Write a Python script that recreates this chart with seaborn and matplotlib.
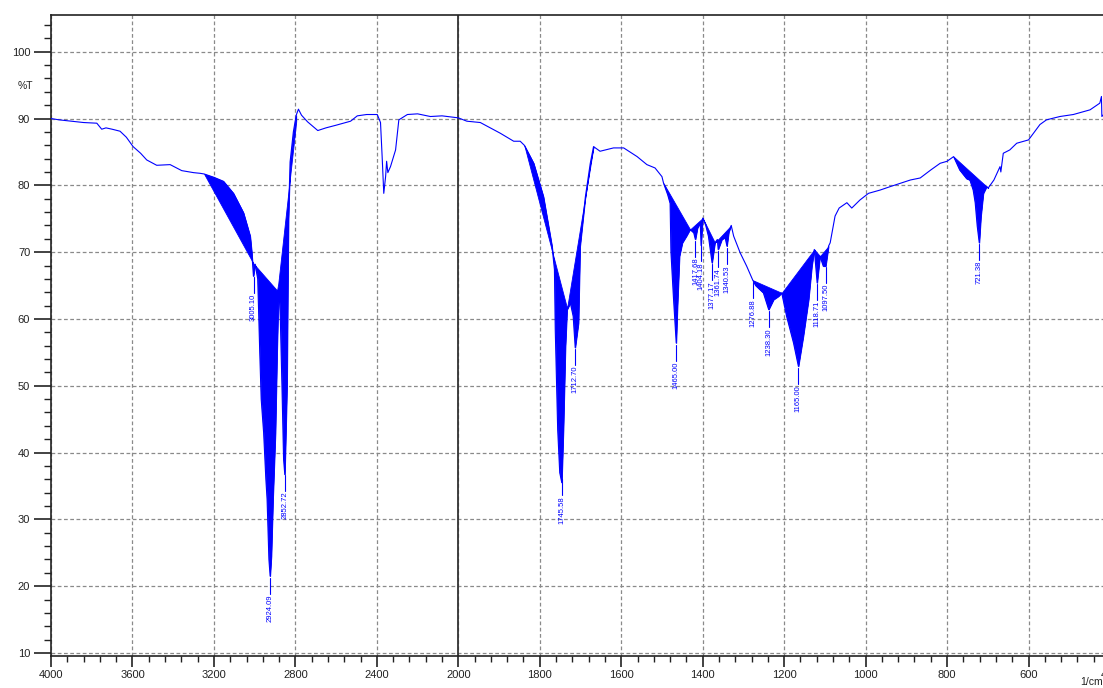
import numpy as np
import pandas as pd
import matplotlib
matplotlib.use("Agg")
import matplotlib.pyplot as plt
import seaborn as sns
from matplotlib.ticker import FixedLocator, NullFormatter

# ---------------- data ----------------
wavenumber = [4000, 3960, 3900, 3840, 3775, 3751, 3730, 3700, 3661, 3630, 3597, 3560, 3530,
              3481, 3415, 3358, 3300, 3268, 3248, 3200, 3153, 3104, 3055, 3022, 3014, 3006,
              2998, 2985, 2975, 2968, 2956, 2945, 2939, 2930, 2924, 2918, 2910, 2898, 2890,
              2884, 2880, 2874, 2866, 2858, 2852, 2846, 2841, 2838, 2834, 2826, 2810, 2796,
              2785, 2770, 2740, 2690, 2650, 2600, 2529, 2496, 2450, 2398, 2382, 2374, 2366,
              2357, 2352, 2346, 2333, 2308, 2292, 2250, 2200, 2137, 2080, 2000,
              1979, 1946, 1897, 1864, 1848, 1838, 1815, 1791, 1770, 1764, 1762, 1756, 1751,
              1746, 1742, 1737, 1733, 1725, 1718, 1713, 1705, 1701, 1688, 1676, 1668, 1652,
              1619, 1594, 1561, 1537, 1517, 1500, 1496, 1486, 1480, 1478, 1472, 1468, 1465,
              1462, 1457, 1450, 1440, 1431, 1422, 1418, 1413, 1406, 1404, 1400, 1393, 1386,
              1377, 1370, 1364, 1362, 1353, 1345, 1340.5, 1336, 1330, 1324, 1308, 1292, 1277,
              1270, 1251, 1238, 1226, 1214, 1206, 1194, 1177, 1165, 1153, 1140, 1132, 1126,
              1119, 1112, 1104, 1098, 1091, 1087, 1075, 1065, 1046, 1034, 1014, 993, 964,
              940, 915, 890, 866, 840, 817, 800, 784, 769, 752, 744, 736, 731, 726, 721, 717,
              711, 703, 699, 685, 670, 668, 662, 646, 629, 600, 572, 556, 523, 490, 449, 425,
              421, 420, 410, 400]
transmittance = [90.0, 89.8, 89.6, 89.4, 89.3, 88.4, 88.6, 88.4, 88.1, 87.2, 85.8, 84.8, 83.8,
                 83.0, 83.1, 82.2, 81.9, 81.8, 81.7, 81.2, 80.6, 78.8, 75.9, 72.4, 69.9, 66.4,
                 68.2, 66.0, 55.0, 48.0, 43.0, 36.0, 33.0, 24.0, 21.5, 24.5, 33.0, 43.0, 55.0,
                 62.5, 64.0, 60.0, 50.0, 39.0, 36.7, 44.0, 50.4, 62.0, 75.0, 83.5, 88.0, 90.5,
                 91.4, 90.5, 89.5, 88.2, 88.6, 89.0, 89.6, 90.4, 90.6, 90.6, 89.4, 84.3, 78.8,
                 81.3, 83.6, 81.9, 82.8, 85.3, 89.8, 90.6, 90.7, 90.3, 90.4, 90.1,
                 89.6, 89.4, 87.8, 86.6, 86.6, 86.0, 83.3, 78.3, 70.9, 67.4, 58.4, 43.4, 37.0,
                 35.5, 43.4, 55.9, 61.4, 62.4, 60.4, 55.7, 59.4, 70.9, 78.3, 83.3, 85.8, 85.1,
                 85.6, 85.6, 84.3, 83.1, 82.6, 81.3, 80.3, 78.6, 77.3, 70.0, 63.4, 59.4, 56.4,
                 61.9, 69.4, 71.4, 72.4, 73.4, 72.9, 71.9, 73.6, 74.4, 71.0, 75.1, 74.1, 72.4,
                 68.4, 71.4, 71.9, 70.4, 71.9, 72.2, 70.9, 73.0, 74.0, 72.4, 69.9, 67.9, 65.8,
                 65.0, 63.9, 61.4, 62.9, 63.4, 63.9, 60.4, 56.4, 52.9, 57.4, 62.9, 67.9, 70.4,
                 65.4, 69.4, 67.9, 67.9, 70.9, 71.4, 75.4, 76.6, 77.4, 76.6, 77.8, 78.8, 79.3,
                 79.8, 80.3, 80.8, 81.1, 82.3, 83.3, 83.6, 84.3, 82.3, 81.0, 80.8, 79.3, 77.4,
                 73.9, 71.4, 75.3, 78.8, 79.8, 79.6, 80.8, 82.8, 82.0, 84.8, 85.3, 86.3, 86.8,
                 89.1, 89.8, 90.3, 90.6, 91.3, 92.3, 93.3, 90.3, 91.0, 91.2]

# baseline nodes of the shaded peak areas
fill_base_wn = [[3248, 3006, 2888, 2790],
                [1838, 1733, 1668],
                [1496, 1431, 1400, 1370, 1330],
                [1277, 1206, 1126, 1112, 1091],
                [784, 699]]
fill_base_t = [[81.7, 68.3, 64.2, 91.2],
               [86.0, 61.6, 85.8],
               [80.3, 73.4, 75.1, 71.4, 74.0],
               [65.8, 63.9, 70.4, 69.4, 70.9],
               [84.3, 79.6]]

peak_wn = [3005.10, 2924.09, 2852.72, 1745.58, 1712.70, 1465.00, 1417.68, 1404.18, 1377.17,
           1361.74, 1340.53, 1276.88, 1238.30, 1165.00, 1118.71, 1097.50, 721.38]
peak_labels = ["3005.10", "2924.09", "2852.72", "1745.58", "1712.70", "1465.00", "1417.68",
               "1404.18", "1377.17", "1361.74", "1340.53", "1276.88", "1238.30", "1165.00",
               "1118.71", "1097.50", "721.38"]

x_major = [4000, 3600, 3200, 2800, 2400, 2000, 1800, 1600, 1400, 1200, 1000, 800, 600, 400]
y_major = [10, 20, 30, 40, 50, 60, 70, 80, 90, 100]

# ---------------- figure ----------------
sns.set_style("white")
plt.rcParams['font.family'] = ['Liberation Sans', 'DejaVu Sans']

W, H = 1103, 688
fig = plt.figure(figsize=(W / 100, H / 100), dpi=100)
ax = fig.add_axes([51 / W, 1 - 656 / H, (1110 - 51) / W, (656 - 14.7) / H])

df = pd.DataFrame({"wn": wavenumber, "T": transmittance})
sns.lineplot(data=df, x="wn", y="T", sort=False, estimator=None, color="#0000ff",
             linewidth=0.8, ax=ax, zorder=4)

wn_arr = np.array(wavenumber, float)
t_arr = np.array(transmittance, float)
order = np.argsort(wn_arr)
for bw, bt in zip(fill_base_wn, fill_base_t):
    bw = np.array(bw, float)
    bt = np.array(bt, float)
    o = np.argsort(bw)
    m = (wn_arr <= bw.max()) & (wn_arr >= bw.min())
    base = np.interp(wn_arr[m], bw[o], bt[o])
    ax.fill_between(wn_arr[m], t_arr[m], base, color="#0000ff", linewidth=0.6,
                    edgecolor="#0000ff", zorder=3)


def fwd(x):
    x = np.asarray(x, float)
    return np.where(x <= 2000, x, 2000 + (x - 2000) / 2)


def inv(u):
    u = np.asarray(u, float)
    return np.where(u <= 2000, u, 2000 + (u - 2000) * 2)


ax.set_xscale('function', functions=(fwd, inv))
ax.set_xlim(4000, 400)
ax.set_ylim(9.55, 105.54)

x_minor = [v for v in list(range(4000, 2000, -80)) + list(range(2000, 399, -40))
           if v not in x_major]
ax.xaxis.set_major_locator(FixedLocator(x_major))
ax.xaxis.set_minor_locator(FixedLocator(x_minor))
ax.xaxis.set_major_formatter(matplotlib.ticker.FixedFormatter([str(v) for v in x_major]))
ax.xaxis.set_minor_formatter(NullFormatter())
ax.yaxis.set_major_locator(FixedLocator(y_major))
ax.yaxis.set_minor_locator(FixedLocator([v for v in range(10, 105, 2) if v not in y_major]))
ax.set_xlabel("")
ax.set_ylabel("")

ax.grid(True, which="major", color="#8a8a8a", linestyle=(0, (3, 2)), linewidth=0.9, zorder=1)
ax.axvline(2000, color="#333333", linewidth=1.3, zorder=2)

ax.tick_params(axis="y", which="major", direction="out", length=12, width=1.2,
               colors="#222222", labelsize=8, pad=3, left=True)
ax.tick_params(axis="y", which="minor", direction="out", length=5, width=1.0,
               colors="#222222", left=True)
ax.tick_params(axis="x", which="major", direction="out", length=8, width=1.2,
               colors="#222222", labelsize=8, pad=2, bottom=True)
ax.tick_params(axis="x", which="minor", direction="out", length=4, width=1.0,
               colors="#222222", bottom=True)
for s in ax.spines.values():
    s.set_color("#222222")
    s.set_linewidth(1.2)

# peak labels
px_per_t = (656 - 14.7) / (105.54 - 9.55)
t_interp_x = wn_arr[order]
t_interp_y = t_arr[order]
for pw, lab in zip(peak_wn, peak_labels):
    tp = np.interp(pw, t_interp_x, t_interp_y)
    ax.plot([pw, pw], [tp - 2 / px_per_t, tp - 18 / px_per_t], color="#0000ff",
            linewidth=0.8, zorder=5)
    ax.text(pw, tp - 19 / px_per_t, lab, rotation=90, ha="center", va="top",
            fontsize=5.5, color="#0000ff", zorder=5)

fig.text(25 / W, 1 - 86 / H, "%T", ha="center", va="center", fontsize=7.5, color="#222222")
fig.text(1080 / W, 1 - 687 / H, "1/cm", ha="left", va="bottom", fontsize=7.5,
         color="#222222")

fig.savefig("out.png", dpi=100)
